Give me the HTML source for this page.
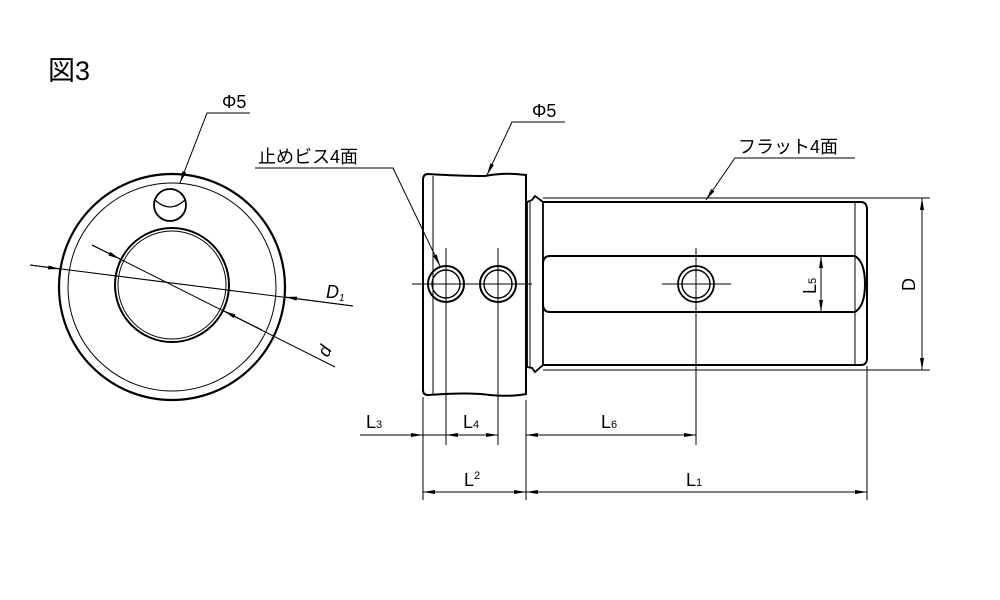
<!DOCTYPE html>
<html><head><meta charset="utf-8"><style>
body{margin:0;background:#fff}
svg{display:block}
text{font-family:"Liberation Sans","Noto Sans CJK JP",sans-serif;fill:#000}
</style></head><body>
<svg width="1000" height="600" viewBox="0 0 1000 600" xmlns="http://www.w3.org/2000/svg">
<defs>
<marker id="a" viewBox="0 0 12 4" refX="12" refY="2" markerWidth="12" markerHeight="4" markerUnits="userSpaceOnUse" orient="auto-start-reverse"><path d="M0,0L12,2L0,4z" fill="#000"/></marker>
</defs>
<text x="48" y="80" font-size="27">図3</text>

<!-- end view -->
<g fill="none" stroke="#000">
<circle cx="172" cy="287" r="113" stroke-width="2.2"/>
<circle cx="172" cy="287" r="104" stroke-width="1"/>
<circle cx="172" cy="285" r="57" stroke-width="2"/>
<circle cx="172" cy="285" r="54" stroke-width="1"/>
<circle cx="170" cy="205" r="16" stroke-width="1.8" fill="#fff"/>
<path d="M155,200 Q170,214 185,200" stroke-width="1.2"/>
<line x1="30" y1="265" x2="353" y2="306" stroke-width="1"/>
<line x1="30" y1="265" x2="60" y2="269" stroke-width="1" marker-end="url(#a)"/>
<line x1="353" y1="306" x2="285" y2="297" stroke-width="1" marker-end="url(#a)"/>
<line x1="92" y1="245" x2="335" y2="367" stroke-width="1"/>
<line x1="92" y1="245" x2="120" y2="259" stroke-width="1" marker-end="url(#a)"/>
<line x1="262" y1="330" x2="224" y2="311" stroke-width="1" marker-end="url(#a)"/>
<polyline points="250,113 207,113 180,183" stroke-width="1" marker-end="url(#a)"/>
</g>
<text x="222" y="108" font-size="18">Φ5</text>
<text x="326" y="298" font-size="18" font-style="italic">D<tspan font-size="10" dy="3">1</tspan></text>
<text x="0" y="0" font-size="18" font-style="italic" transform="translate(328,358) rotate(-65)">d</text>

<!-- side view -->
<g fill="none" stroke="#000">
<path d="M428,174 Q423,174 423,180 L423,390 Q423,395 428,395 Q470,392 490,395 Q510,397 526,394 L526,175 Q505,172 485,176 Q460,176 428,174z" stroke-width="2"/>
<line x1="433" y1="176" x2="433" y2="394" stroke-width="1"/>
<path d="M527,202 L532,200 L535,196 L543,202 L543,365 L535,372 L532,368 L527,367z" stroke-width="1.8"/>
<line x1="530" y1="202" x2="530" y2="367" stroke-width="1"/>
<path d="M543,202 L861,202 Q867,202 867,210 L867,358 Q867,365 861,365 L543,365" stroke-width="2"/>
<line x1="543" y1="198" x2="930" y2="198" stroke-width="1"/>
<line x1="543" y1="370" x2="930" y2="370" stroke-width="1"/>
<line x1="855" y1="203" x2="855" y2="364" stroke-width="1"/>
<path d="M550,256 L855,256 Q865,262 865,284 Q865,306 855,312 L550,312 Q543,312 543,304 L543,264 Q543,256 550,256z" stroke-width="2"/>
<circle cx="446" cy="284" r="18" stroke-width="2"/>
<circle cx="446" cy="284" r="14" stroke-width="1.4"/>
<circle cx="498" cy="284" r="18" stroke-width="2"/>
<circle cx="498" cy="284" r="14" stroke-width="1.4"/>
<circle cx="696" cy="284" r="18" stroke-width="1.8"/>
<circle cx="696" cy="284" r="14" stroke-width="1.4"/>
<g stroke-width="1">
<line x1="412" y1="284" x2="532" y2="284"/>
<line x1="662" y1="284" x2="731" y2="284"/>
<line x1="446" y1="248" x2="446" y2="445"/>
<line x1="498" y1="248" x2="498" y2="445"/>
<line x1="696" y1="248" x2="696" y2="445"/>
<line x1="423" y1="397" x2="423" y2="500"/>
<line x1="526" y1="400" x2="526" y2="500"/>
<line x1="867" y1="366" x2="867" y2="500"/>
<line x1="922" y1="198" x2="922" y2="370" marker-start="url(#a)" marker-end="url(#a)"/>
<line x1="821" y1="256" x2="821" y2="312" marker-start="url(#a)" marker-end="url(#a)"/>
<line x1="360" y1="435" x2="423" y2="435" marker-end="url(#a)"/>
<line x1="423" y1="435" x2="446" y2="435"/>
<line x1="446" y1="435" x2="498" y2="435" marker-start="url(#a)" marker-end="url(#a)"/>
<line x1="526" y1="435" x2="696" y2="435" marker-start="url(#a)" marker-end="url(#a)"/>
<line x1="423" y1="492" x2="526" y2="492" marker-start="url(#a)" marker-end="url(#a)"/>
<line x1="526" y1="492" x2="867" y2="492" marker-start="url(#a)" marker-end="url(#a)"/>
<polyline points="565,122 512,122 487,175" marker-end="url(#a)"/>
<polyline points="255,168 393,168 440,266" marker-end="url(#a)"/>
<polyline points="855,158 735,158 706,200" marker-end="url(#a)"/>
</g>
<g stroke="#000" stroke-width="1">
<line x1="443" y1="284" x2="449" y2="284"/><line x1="446" y1="281" x2="446" y2="287"/>
</g>
</g>
<text x="532" y="117" font-size="18">Φ5</text>
<text x="258" y="163" font-size="18">止めビス4面</text>
<text x="738" y="153" font-size="18">フラット4面</text>
<text font-size="18" transform="translate(915,291) rotate(-90)">D</text>
<text font-size="18" transform="translate(816,294) rotate(-90)">L<tspan font-size="11">5</tspan></text>
<text x="366" y="428" font-size="18">L<tspan font-size="11">3</tspan></text>
<text x="463" y="428" font-size="18">L<tspan font-size="11">4</tspan></text>
<text x="601" y="428" font-size="18">L<tspan font-size="11">6</tspan></text>
<text x="464" y="486" font-size="18">L<tspan font-size="11" dy="-7">2</tspan></text>
<text x="686" y="486" font-size="18">L<tspan font-size="11">1</tspan></text>
</svg>
</body></html>
